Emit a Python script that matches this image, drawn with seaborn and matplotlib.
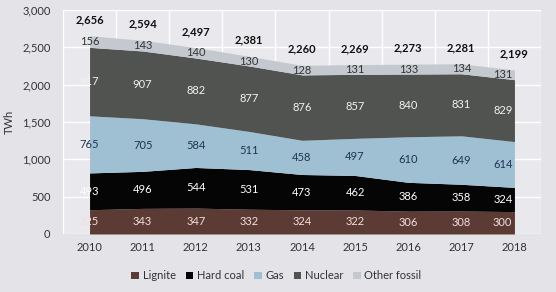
import matplotlib
matplotlib.use("Agg")
import matplotlib.pyplot as plt
import seaborn as sns
import pandas as pd
import numpy as np
from matplotlib.patches import Patch

years = ["2010", "2011", "2012", "2013", "2014", "2015", "2016", "2017", "2018"]
lignite = [325, 343, 347, 332, 324, 322, 306, 308, 300]
hard_coal = [493, 496, 544, 531, 473, 462, 386, 358, 324]
gas = [765, 705, 584, 511, 458, 497, 610, 649, 614]
nuclear = [917, 907, 882, 877, 876, 857, 840, 831, 829]
other_fossil = [156, 143, 140, 130, 128, 131, 133, 134, 131]
totals = [2656, 2594, 2497, 2381, 2260, 2269, 2273, 2281, 2199]
series_names = ["Lignite", "Hard coal", "Gas", "Nuclear", "Other fossil"]
y_ticks = [0, 500, 1000, 1500, 2000, 2500, 3000]

colors = ["#5b3b34", "#050505", "#9fc0d3", "#50534f", "#c3c9cf"]
label_colors = ["#f3dede", "#ffffff", "#1d3552", "#f2f2f2", "#333333"]

df = pd.DataFrame({"year": years, "Lignite": lignite, "Hard coal": hard_coal,
                   "Gas": gas, "Nuclear": nuclear, "Other fossil": other_fossil,
                   "total": totals})

sns.set_theme(style="darkgrid")
plt.rcParams["font.family"] = ["Lato", "DejaVu Sans"]

fig = plt.figure(figsize=(5.56, 2.92), dpi=100)
fig.patch.set_facecolor("#e4e4e8")
ax = fig.add_axes([63/556, 1-234/292, (541-63)/556, (234-10)/292])
ax.set_facecolor("#e9e9ed")

x = np.arange(len(years))
vals = [df[n].values for n in series_names]
ax.stackplot(x, *vals, colors=colors, linewidth=0, zorder=2)

fs = 8
cum = np.zeros(len(years))
for i, n in enumerate(series_names):
    v = df[n].values
    mid = cum + v / 2
    for j in range(len(years)):
        xx = x[j] - (0.22 if j == len(years) - 1 else 0)
        ax.text(xx, mid[j], f"{v[j]:,}", ha="center", va="center",
                fontsize=fs, color=label_colors[i], zorder=4)
    cum += v
for j in range(len(years)):
    ax.text(x[j], df["total"].values[j] + 215, f"{df['total'].values[j]:,}",
            ha="center", va="center", fontsize=fs, fontweight="bold",
            color="#111111", zorder=4)

ax.set_xlim(-0.5, len(years) - 0.5)
ax.set_ylim(0, 3000)
ax.set_yticks(y_ticks)
ax.set_yticklabels([f"{t:,}" for t in y_ticks])
ax.set_xticks(x)
ax.set_xticklabels(years)
ax.set_xticks(np.arange(-0.5, len(years)), minor=True)
ax.grid(False)
ax.grid(True, which="minor", axis="x", color="white", linewidth=1.0, zorder=1)
ax.grid(True, which="major", axis="y", color="white", linewidth=1.0, zorder=1)
ax.tick_params(axis="both", which="both", length=0, labelsize=fs,
               colors="#333333")
ax.tick_params(axis="y", pad=9)
ax.tick_params(axis="x", pad=6)
for s in ax.spines.values():
    s.set_visible(False)
ax.set_ylabel("TWh", fontsize=fs, color="#333333", labelpad=5)

handles = [Patch(facecolor=c, edgecolor="none") for c in colors]
fig.legend(handles, series_names, loc="center", bbox_to_anchor=(0.497, 0.055),
           ncol=5, frameon=False, fontsize=fs, handlelength=0.7,
           handleheight=0.7, handletextpad=0.3, columnspacing=0.9,
           labelcolor="#333333")

fig.savefig("out.png", dpi=100, facecolor=fig.get_facecolor())
